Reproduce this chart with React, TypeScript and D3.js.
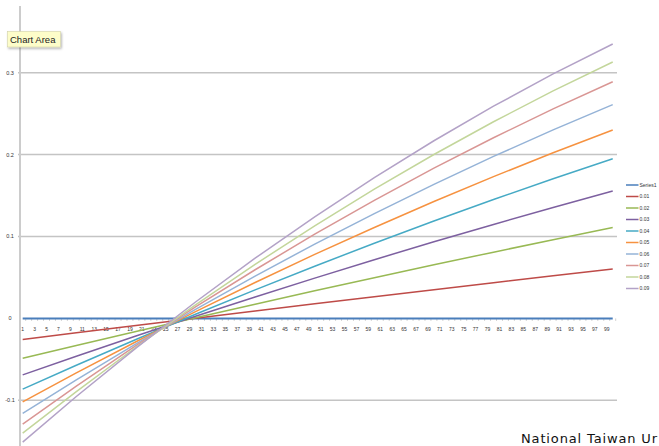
import React from "react";
import * as d3 from "d3";

// Category axis runs 1..100; values sampled along the axis for each rate series.
const categories: number[] = Array.from({ length: 100 }, (_, i) => i + 1);
const sampleCats: number[] = [1, 10, 20, 30, 40, 50, 60, 70, 80, 90, 100];

const series1: number[] = [0, 0, 0, 0, 0, 0, 0, 0, 0, 0, 0];
const r01: number[] = [-0.0258, -0.0176, -0.0086, 0.0003, 0.0091, 0.0179, 0.0265, 0.0351, 0.0436, 0.052, 0.0604];
const r02: number[] = [-0.0486, -0.033, -0.0159, 0.0009, 0.0174, 0.0337, 0.0497, 0.0654, 0.0809, 0.0961, 0.111];
const r03: number[] = [-0.069, -0.0462, -0.0215, 0.0027, 0.0262, 0.0492, 0.0717, 0.0935, 0.1147, 0.1354, 0.1555];
const r04: number[] = [-0.0864, -0.0572, -0.0257, 0.005, 0.0348, 0.0637, 0.0918, 0.1189, 0.1452, 0.1705, 0.195];
const r05: number[] = [-0.102, -0.0666, -0.0285, 0.0083, 0.0438, 0.0781, 0.111, 0.1427, 0.1731, 0.2022, 0.23];
const r06: number[] = [-0.116, -0.0751, -0.0312, 0.0111, 0.0517, 0.0907, 0.128, 0.1637, 0.1978, 0.2302, 0.261];
const r07: number[] = [-0.129, -0.0828, -0.0333, 0.0141, 0.0594, 0.1028, 0.1441, 0.1834, 0.2206, 0.2558, 0.289];
const r08: number[] = [-0.14, -0.0893, -0.0352, 0.0166, 0.066, 0.1131, 0.1578, 0.2001, 0.2401, 0.2778, 0.3131];
const r09: number[] = [-0.151, -0.0954, -0.0363, 0.02, 0.0735, 0.1241, 0.1719, 0.2169, 0.2591, 0.2985, 0.335];

const seriesNames: string[] = ["Series1", "0.01", "0.02", "0.03", "0.04", "0.05", "0.06", "0.07", "0.08", "0.09"];
const seriesValues: number[][] = [series1, r01, r02, r03, r04, r05, r06, r07, r08, r09];
const seriesColors: string[] = [
  "#4a7ebb", "#be4b48", "#98b954", "#7d60a0", "#46aac5",
  "#f69240", "#95b3d7", "#d99694", "#c3d69b", "#b3a2c7",
];

const yTicks: number[] = [-0.1, 0, 0.1, 0.2, 0.3];
const yTickLabels: string[] = ["-0.1", "0", "0.1", "0.2", "0.3"];

const footerText = "National Taiwan Ur";

const W = 659;
const H = 446;

export default function App() {
  const x = d3.scaleLinear().domain([0.5, 100.5]).range([19.7, 615.7]);
  const y = d3.scaleLinear().domain([-0.1, 0.3]).range([400.3, 72.7]);

  const line = d3
    .line<[number, number]>()
    .x((d) => x(d[0]))
    .y((d) => y(d[1]));

  const font = "'Liberation Sans', Arial, sans-serif";
  const legendX = 626;
  const legendY0 = 185;
  const legendStep = 11.5;

  return (
    <div style={{ position: "fixed", left: 0, top: 0 }}>
      <svg width={W} height={H} style={{ display: "block", background: "#fff" }}>
        <defs>
          <filter id="tipShadow" x="-20%" y="-30%" width="150%" height="180%">
            <feDropShadow dx="1" dy="1.5" stdDeviation="1.2" floodColor="#000" floodOpacity="0.3" />
          </filter>
        </defs>

        {/* horizontal gridlines */}
        {yTicks.filter((t) => t !== 0).map((t) => (
          <line key={"g" + t} x1={18} x2={617} y1={y(t)} y2={y(t)} stroke="#c4c4c4" strokeWidth={1.5} />
        ))}

        {/* value axis */}
        <line x1={20} x2={20} y1={6} y2={H} stroke="#cccccc" strokeWidth={2} />
        {yTicks.map((t, i) => (
          <text
            key={"yl" + t}
            x={10}
            y={y(t)}
            dy="0.35em"
            textAnchor="middle"
            fontFamily={font}
            fontSize={5.5}
            fill="#333"
          >
            {yTickLabels[i]}
          </text>
        ))}

        {/* category axis ticks */}
        {categories.map((c) => (
          <line key={"t" + c} x1={x(c + 0.5)} x2={x(c + 0.5)} y1={y(0)} y2={y(0) + 2.5} stroke="#b0b0b0" strokeWidth={0.6} />
        ))}
        {categories.filter((c) => c % 2 === 1).map((c) => (
          <text
            key={"xl" + c}
            x={x(c)}
            y={329.5}
            dy="0.35em"
            textAnchor="middle"
            fontFamily={font}
            fontSize={5}
            fill="#333"
          >
            {c}
          </text>
        ))}

        {/* series lines */}
        {seriesValues.map((vals, si) => {
          const pts: [number, number][] =
            si === 0
              ? [[categories[0], vals[0]], [categories[categories.length - 1], vals[vals.length - 1]]]
              : sampleCats.map((c, i) => [c, vals[i]]);
          return (
            <path
              key={"s" + si}
              d={line(pts) || ""}
              fill="none"
              stroke={seriesColors[si]}
              strokeWidth={si === 0 ? 2 : 1.5}
            />
          );
        })}

        {/* legend */}
        {seriesNames.map((name, i) => (
          <g key={"lg" + i} transform={`translate(${legendX},${legendY0 + i * legendStep})`}>
            <line x1={0} x2={12.5} y1={0} y2={0} stroke={seriesColors[i]} strokeWidth={1.5} />
            <text x={13.5} y={0} dy="0.35em" fontFamily={font} fontSize={5} fill="#333">
              {name}
            </text>
          </g>
        ))}

        {/* hover tip */}
        <g filter="url(#tipShadow)">
          <rect x={7.5} y={31.5} width={53} height={15.5} fill="#fdfdc9" stroke="#d2d2a8" strokeWidth={0.6} />
        </g>
        <text x={10} y={43} fontFamily={font} fontSize={9.5} fill="#222">
          Chart Area
        </text>

        {/* footer */}
        <text
          x={521}
          y={443}
          fontFamily="'DejaVu Sans', sans-serif"
          fontSize={13}
          textLength={136}
          lengthAdjust="spacing"
          fill="#111"
        >
          {footerText}
        </text>
      </svg>
    </div>
  );
}
